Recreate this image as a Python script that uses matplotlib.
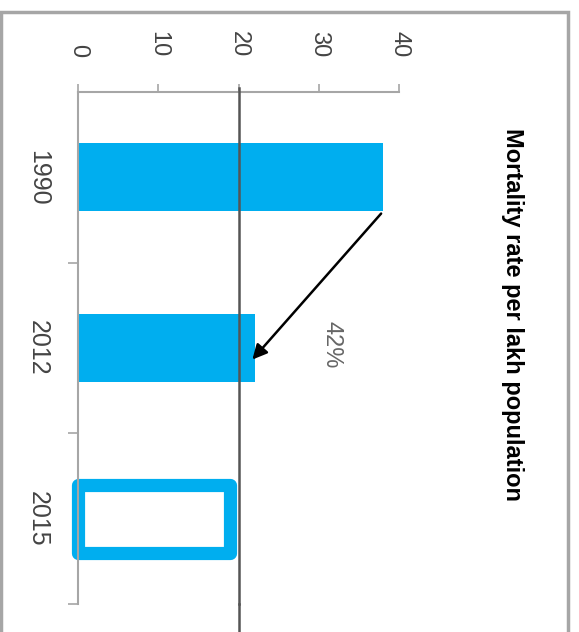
import numpy as np
import matplotlib.pyplot as plt
from matplotlib.patches import Rectangle

plt.rcParams['font.family'] = ['Liberation Sans', 'DejaVu Sans']

# data
years = ['1990', '2012', '2015']
rates = [38, 22, 19]
target = 20
change_label = '42%'
title = 'Mortality rate per lakh population'

bar_col = '#00AEEF'
grey = '#A6A6A6'

fig = plt.figure(figsize=(5.79, 6.32), dpi=100)
ax = fig.add_axes([78/579, 1-604/632, (399-78)/579, (604-92)/632])

pos = np.arange(len(years))
# first two bars filled, last one (target year) as outline box
ax.barh(pos[:2], rates[:2], height=0.4, color=bar_col, zorder=2)
box = ax.barh(pos[2], rates[2], height=0.4, facecolor='white', edgecolor=bar_col,
              linewidth=9.5, joinstyle='round', zorder=1)
for b in box:
    b.set_clip_on(False)

ax.axvline(target, color='#555555', lw=1.8, ymin=0, ymax=1.008, clip_on=False, zorder=3)
ax.plot([target, target], [2.5, 2.75], color='#555555', lw=1.8, clip_on=False, zorder=3)

ax.set_xlim(0, 40)
ax.set_ylim(2.5, -0.5)

ax.xaxis.tick_top()
ax.set_xticks([0, 10, 20, 30, 40])
ax.set_xticklabels(['0', '10', '20', '30', '40'], rotation=-90, fontsize=17, color='#444444')
ax.tick_params(axis='x', length=6, width=1.2, color=grey, pad=19)

ax.set_yticks(pos)
ax.set_yticklabels(years, rotation=-90, fontsize=18, color='#444444', va='center')
ax.tick_params(axis='y', which='major', length=0, pad=20)
ax.set_yticks([0.5, 1.5, 2.5], minor=True)
ax.tick_params(axis='y', which='minor', length=7, width=1.2, color=grey)

for s in ['right', 'bottom']:
    ax.spines[s].set_visible(False)
for s in ['top', 'left']:
    ax.spines[s].set_color(grey)
    ax.spines[s].set_linewidth(1.5)
    ax.spines[s].set_zorder(2.5)

# change arrow
ax.annotate('', xy=(rates[1] - 0.5, 1.08), xytext=(rates[0], 0.2),
            arrowprops=dict(arrowstyle='-|>', color='black', lw=1.8, mutation_scale=22), zorder=4)
ax.text(31.6, 0.98, change_label, rotation=-90, fontsize=17, color='#666666', ha='center', va='center')

fig.text(512/579, 1-314/632, title, rotation=-90, fontsize=17, fontweight='bold',
         ha='center', va='center')

fig.patches.append(Rectangle((1/579, -0.05), 567/579, 1.05 - 12/632, transform=fig.transFigure,
                             fill=False, ec=grey, lw=2.5))

fig.savefig('out.png', dpi=100)
